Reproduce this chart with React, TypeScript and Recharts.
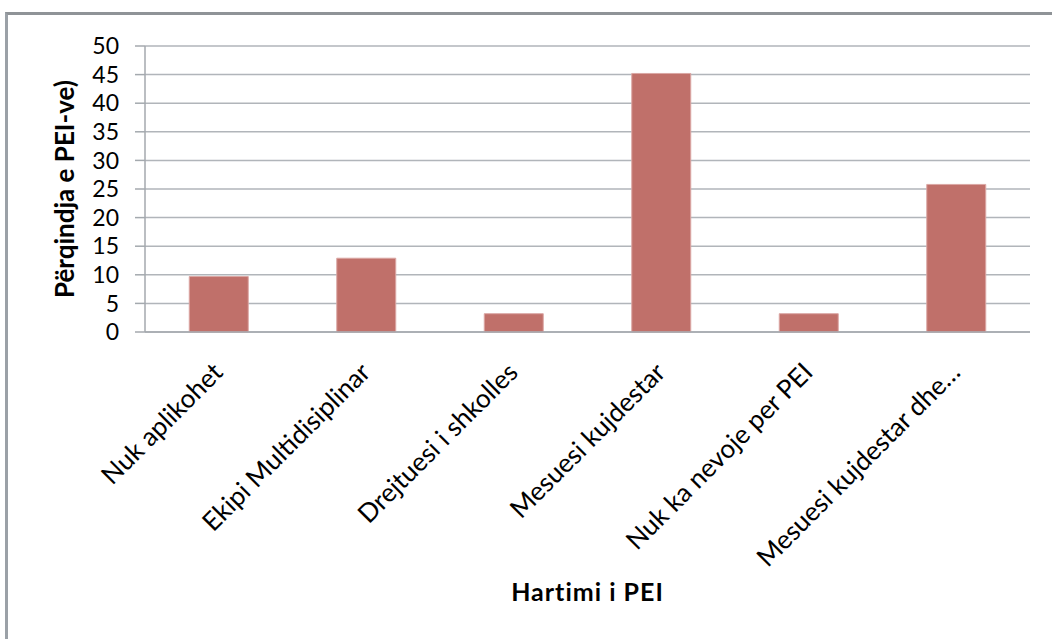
import React from 'react';
import { BarChart, Bar, XAxis, YAxis, CartesianGrid } from 'recharts';

const categories = [
  'Nuk aplikohet',
  'Ekipi Multidisiplinar',
  'Drejtuesi i shkolles',
  'Mesuesi kujdestar',
  'Nuk ka nevoje per PEI',
  'Mesuesi kujdestar dhe…',
];
const percentages = [9.7, 12.9, 3.2, 45.2, 3.2, 25.8];
const yTicks = [0, 5, 10, 15, 20, 25, 30, 35, 40, 45, 50];

const data = categories.map((name, i) => ({ name, value: percentages[i] }));

const FONT = 'Lato, "Open Sans", sans-serif';

function AngledTick(props: any) {
  const { x, y, payload } = props;
  return (
    <text
      x={x}
      y={y}
      dx={-20}
      dy={28}
      transform={`rotate(-45, ${x}, ${y})`}
      textAnchor="end"
      fontFamily={FONT}
      fontSize={26}
      fill="#000"
    >
      {payload.value}
    </text>
  );
}

function YTitle(props: any) {
  const { viewBox } = props;
  const cx = viewBox.x + 74;
  const cy = viewBox.y + viewBox.height / 2;
  return (
    <text
      x={cx}
      y={cy}
      transform={`rotate(-90, ${cx}, ${cy})`}
      textAnchor="middle"
      fontFamily={FONT}
      fontWeight="bold"
      fontSize={26}
      fill="#000"
    >
      Përqindja e PEI-ve)
    </text>
  );
}

function XTitle(props: any) {
  const { viewBox } = props;
  const cx = viewBox.x + viewBox.width / 2;
  return (
    <text
      x={cx}
      y={601}
      textAnchor="middle"
      fontFamily={FONT}
      fontWeight="bold"
      fontSize={25}
      letterSpacing={1}
      fill="#000"
    >
      Hartimi i PEI
    </text>
  );
}

export default function App() {
  return (
    <div style={{ position: 'fixed', left: 0, top: 0, width: 1052, height: 639, overflow: 'hidden', background: '#fff' }}>
      <div
        style={{
          position: 'absolute',
          left: 5,
          top: 12,
          width: 1200,
          height: 800,
          borderTop: '3px solid #8f9397',
          borderLeft: '3px solid #9ba1a7',
        }}
      />
      <div style={{ position: 'absolute', left: 0, top: 0 }}>
        <BarChart
          width={1052}
          height={639}
          data={data}
          margin={{ top: 46, right: 22, left: 0, bottom: 0 }}
          barCategoryGap="30%"
        >
          <CartesianGrid vertical={false} stroke="#b1b5ba" strokeWidth={1.5} />
          <XAxis
            dataKey="name"
            height={307}
            interval={0}
            tickLine={false}
            axisLine={{ stroke: '#a4a9ae', strokeWidth: 1.5 }}
            tick={<AngledTick />}
            label={<XTitle />}
          />
          <YAxis
            width={145}
            domain={[0, 50]}
            ticks={yTicks}
            interval={0}
            tickSize={10}
            tickLine={{ stroke: '#a4a9ae', strokeWidth: 1.5 }}
            axisLine={{ stroke: '#a4a9ae', strokeWidth: 1.5 }}
            tick={{ fontFamily: FONT, fontSize: 23, fill: '#000' }}
            tickMargin={16}
            label={<YTitle />}
          />
          <Bar
            dataKey="value"
            fill="#c0706a"
            stroke="#dba7a4"
            strokeWidth={1}
            isAnimationActive={false}
          />
        </BarChart>
      </div>
    </div>
  );
}
